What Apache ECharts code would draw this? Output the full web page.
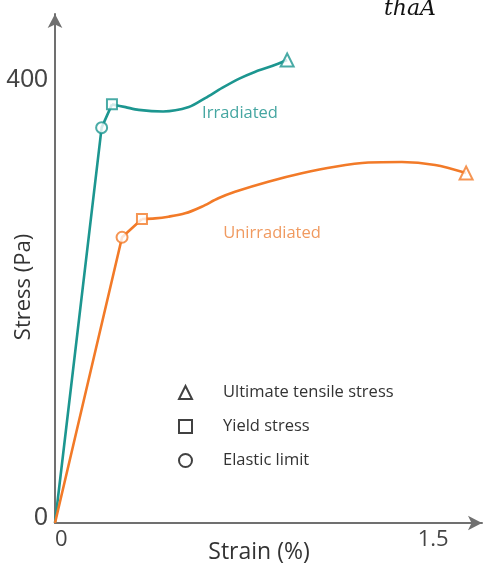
<!DOCTYPE html>
<html>
<head>
<meta charset="utf-8">
<script src="https://cdn.jsdelivr.net/npm/echarts@6/dist/echarts.min.js"></script>
<style>
  html, body { margin: 0; padding: 0; background: #fff; }
  #main { width: 488px; height: 569px; }
</style>
</head>
<body>
<div id="main"></div>
<script>
// strain (%), stress (Pa)
var irrStraight = [[0, 0], [0.185, 357], [0.226, 378]];
var irrCurve = [[0.226, 378], [0.28, 375.5], [0.332, 373], [0.429, 371.6], [0.531, 375.6], [0.596, 383.7],
    [0.663, 392.8], [0.729, 401], [0.795, 407.5], [0.861, 412.6], [0.921, 418]];
var irrElastic = [[0.185, 357]];
var irrYield = [[0.226, 378]];
var irrUltimate = [[0.921, 418]];

var unStraight = [[0, 0], [0.266, 258], [0.345, 274.5]];
var unCurve = [[0.345, 274.5], [0.397, 275.1], [0.45, 276.6], [0.516, 279.6], [0.582, 285.6], [0.648, 293.2],
    [0.714, 299.1], [0.846, 308.2], [0.979, 315.8], [1.111, 321.7], [1.243, 325.5], [1.376, 326], [1.508, 323.3], [1.631, 316]];
var unElastic = [[0.266, 258]];
var unYield = [[0.345, 274.5]];
var unUltimate = [[1.631, 316]];

var xTicks = [0, 1.5];
var yTicks = [0, 400];
var legendNames = ['Ultimate tensile stress', 'Yield stress', 'Elastic limit'];

var teal = '#1c9690';
var orange = '#f27a28';
var font = 'Open Sans';

var myChart = echarts.init(document.getElementById('main'));

function lineS(data, color, smooth) {
    return {
        type: 'line',
        data: data,
        smooth: smooth,
        showSymbol: false,
        silent: true,
        lineStyle: { color: color, width: 2.6 },
        z: 2
    };
}
function markS(data, color, symbol, size) {
    return {
        type: 'scatter',
        data: data,
        symbol: symbol,
        symbolSize: size,
        itemStyle: { color: color, borderColor: color, borderWidth: 2.5 },
        z: 5
    };
}
function legendS(name, symbol) {
    return {
        type: 'scatter',
        name: name,
        data: [],
        symbol: symbol,
        itemStyle: { color: '#111', borderColor: '#111', borderWidth: 2.5 }
    };
}

option = {
    backgroundColor: '#fff',
    animation: false,
    grid: { left: 55, right: 6, top: 14, bottom: 46 },
    xAxis: {
        type: 'value',
        min: 0,
        max: 1.694,
        splitLine: { show: false },
        axisLine: { show: true, lineStyle: { color: '#707070', width: 2 }, symbol: ['none', 'arrow'], symbolSize: [11, 14] },
        axisTick: { show: false },
        axisLabel: {
            customValues: xTicks,
            alignMinLabel: 'left',
            fontFamily: font, fontSize: 22, color: '#444', margin: 6,
            formatter: function (v) { return v === 0 ? '0' : String(v); }
        }
    },
    yAxis: {
        type: 'value',
        min: 0,
        max: 459.6,
        splitLine: { show: false },
        axisLine: { show: true, lineStyle: { color: '#707070', width: 2 }, symbol: ['none', 'arrow'], symbolSize: [11, 14] },
        axisTick: { show: false },
        axisLabel: {
            customValues: yTicks,
            fontFamily: 'Liberation Sans', fontSize: 25, color: '#444', margin: 7,
            formatter: function (v) { return v === 0 ? '{z|0}' : String(v); },
            rich: { z: { fontFamily: 'Liberation Sans', fontSize: 25, color: '#444', padding: [0, 0, 10, 0] } }
        }
    },
    legend: {
        orient: 'vertical',
        left: 173,
        top: 379,
        itemWidth: 13,
        itemHeight: 13,
        itemGap: 17,
        textStyle: { fontFamily: font, fontSize: 16.5, color: '#333', padding: [0, 0, 0, 26] },
        data: [
            { name: legendNames[0], icon: 'emptyTriangle' },
            { name: legendNames[1], icon: 'emptyRect' },
            { name: legendNames[2], icon: 'emptyCircle' }
        ],
        selectedMode: false
    },
    graphic: [
        { type: 'text', x: 24, y: 287, rotation: Math.PI / 2,
          style: { text: 'Stress (Pa)', fontFamily: font, fontSize: 22, fill: '#333', align: 'center', verticalAlign: 'middle' } },
        { type: 'text', x: 259, y: 552,
          style: { text: 'Strain (%)', fontFamily: font, fontSize: 23, fill: '#333', align: 'center', verticalAlign: 'middle' } },
        { type: 'text', x: 240, y: 113,
          style: { text: 'Irradiated', fontFamily: font, fontSize: 16.5, fill: '#45a6a1', align: 'center', verticalAlign: 'middle' } },
        { type: 'text', x: 272, y: 233,
          style: { text: 'Unirradiated', fontFamily: font, fontSize: 16.5, fill: '#f09a60', align: 'center', verticalAlign: 'middle' } },
        { type: 'text', x: 410, y: 9,
          style: { text: 'thaA', fontFamily: 'DejaVu Serif', fontStyle: 'italic', fontSize: 22, fill: '#111', align: 'center', verticalAlign: 'middle' } }
    ],
    series: [
        lineS(irrStraight, teal, false),
        lineS(irrCurve, teal, 0.3),
        lineS(unStraight, orange, false),
        lineS(unCurve, orange, 0.3),
        markS(irrElastic, teal, 'emptyCircle', 11),
        markS(irrYield, teal, 'emptyRect', 10),
        markS(irrUltimate, teal, 'emptyTriangle', 13),
        markS(unElastic, orange, 'emptyCircle', 11),
        markS(unYield, orange, 'emptyRect', 10),
        markS(unUltimate, orange, 'emptyTriangle', 13),
        legendS(legendNames[0], 'emptyTriangle'),
        legendS(legendNames[1], 'emptyRect'),
        legendS(legendNames[2], 'emptyCircle')
    ]
};

if (option && typeof option === 'object') {
    myChart.setOption(option, true);
}
</script>
</body>
</html>
